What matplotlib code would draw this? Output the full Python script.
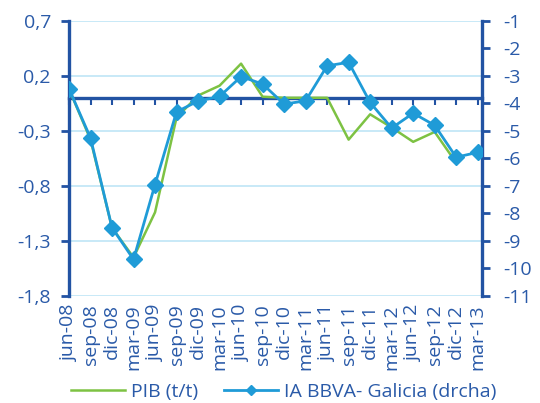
import matplotlib
matplotlib.use('Agg')
import matplotlib.pyplot as plt
import numpy as np

# data
quarters = ['jun-08', 'sep-08', 'dic-08', 'mar-09', 'jun-09', 'sep-09', 'dic-09',
            'mar-10', 'jun-10', 'sep-10', 'dic-10', 'mar-11', 'jun-11', 'sep-11',
            'dic-11', 'mar-12', 'jun-12', 'sep-12', 'dic-12', 'mar-13']
pib = [0.08, -0.38, -1.18, -1.45, -1.04, -0.18, 0.02, 0.11, 0.31, 0.01,
       0.0, 0.0, 0.0, -0.38, -0.15, -0.27, -0.40, -0.31, -0.59, np.nan]
ia_bbva = [-3.47, -5.26, -8.52, -9.67, -6.95, -4.31, -3.92, -3.75, -3.03, -3.30,
           -4.03, -3.91, -2.64, -2.51, -3.97, -4.90, -4.36, -4.80, -5.96, -5.78]
left_ticks = [-1.8, -1.3, -0.8, -0.3, 0.2, 0.7]
right_ticks = [-11, -10, -9, -8, -7, -6, -5, -4, -3, -2, -1]

dark_blue = '#2253a3'
text_blue = '#2a5aa8'
grid_blue = '#bfe5f6'
green = '#7dc243'
blue = '#1f9bd7'

plt.rcParams['font.family'] = ['Open Sans', 'DejaVu Sans']
fs = 14

fig = plt.figure(figsize=(5.4, 4.03), dpi=100)
ax = fig.add_axes([69/540, 1-296/403, (482-69)/540, (296-20.7)/403])
ax2 = ax.twinx()

x = np.arange(len(quarters))

l1, = ax.plot(x, pib, color=green, linewidth=1.8, label='PIB (t/t)', zorder=3)
l2, = ax2.plot(x, ia_bbva, color=blue, linewidth=2.0, marker='D', markersize=8,
               label='IA BBVA- Galicia (drcha)', zorder=3)

ax.set_xlim(0, 19.2)
ax.set_ylim(-1.8, 0.7)
ax2.set_ylim(-11, -1)

# left axis
ax.set_yticks(left_ticks)
ax.set_yticklabels([('%.1f' % v).replace('.', ',') for v in left_ticks])
ax.yaxis.grid(True, color=grid_blue, linewidth=1.2)
ax.set_axisbelow(True)
ax.tick_params(axis='y', direction='out', length=6, width=2, color=dark_blue,
               labelcolor=text_blue, labelsize=fs, pad=7)

# right axis
ax2.set_yticks(right_ticks)
ax2.set_yticklabels([str(v) for v in right_ticks])
ax2.tick_params(axis='y', direction='out', length=6, width=2, color=dark_blue,
                labelcolor=text_blue, labelsize=fs, pad=9)

for a in (ax, ax2):
    a.spines['top'].set_visible(False)
ax.spines['right'].set_visible(False)
ax2.spines['left'].set_visible(False)
ax2.spines['bottom'].set_visible(False)
ax.spines['left'].set_color(dark_blue)
ax.spines['left'].set_linewidth(2.4)
ax2.spines['right'].set_color(dark_blue)
ax2.spines['right'].set_linewidth(2.4)

# category axis crossing at zero, with ticks
ax.spines['bottom'].set_position(('data', 0))
ax.spines['bottom'].set_color(dark_blue)
ax.spines['bottom'].set_linewidth(2.4)
ax.spines['bottom'].set_zorder(2.5)
ax.set_xticks(x)
ax.tick_params(axis='x', direction='out', length=5, width=1.5, color=dark_blue,
               labelbottom=False)

# category labels at the bottom of the plot area
sec = ax.secondary_xaxis(0.0)
sec.set_xticks(x)
sec.set_xticklabels(quarters, rotation=90)
sec.tick_params(axis='x', length=0, labelcolor=text_blue, labelsize=fs, pad=6)
sec.spines['bottom'].set_visible(False)

leg = fig.legend(handles=[l1, l2], loc='center', bbox_to_anchor=(0.525, 1-391.7/403),
                 ncol=2, frameon=False, fontsize=fs, handlelength=2.8,
                 handletextpad=0.3, columnspacing=1.3, markerscale=0.6)
for t in leg.get_texts():
    t.set_color(text_blue)

fig.savefig('out.png', dpi=100)
